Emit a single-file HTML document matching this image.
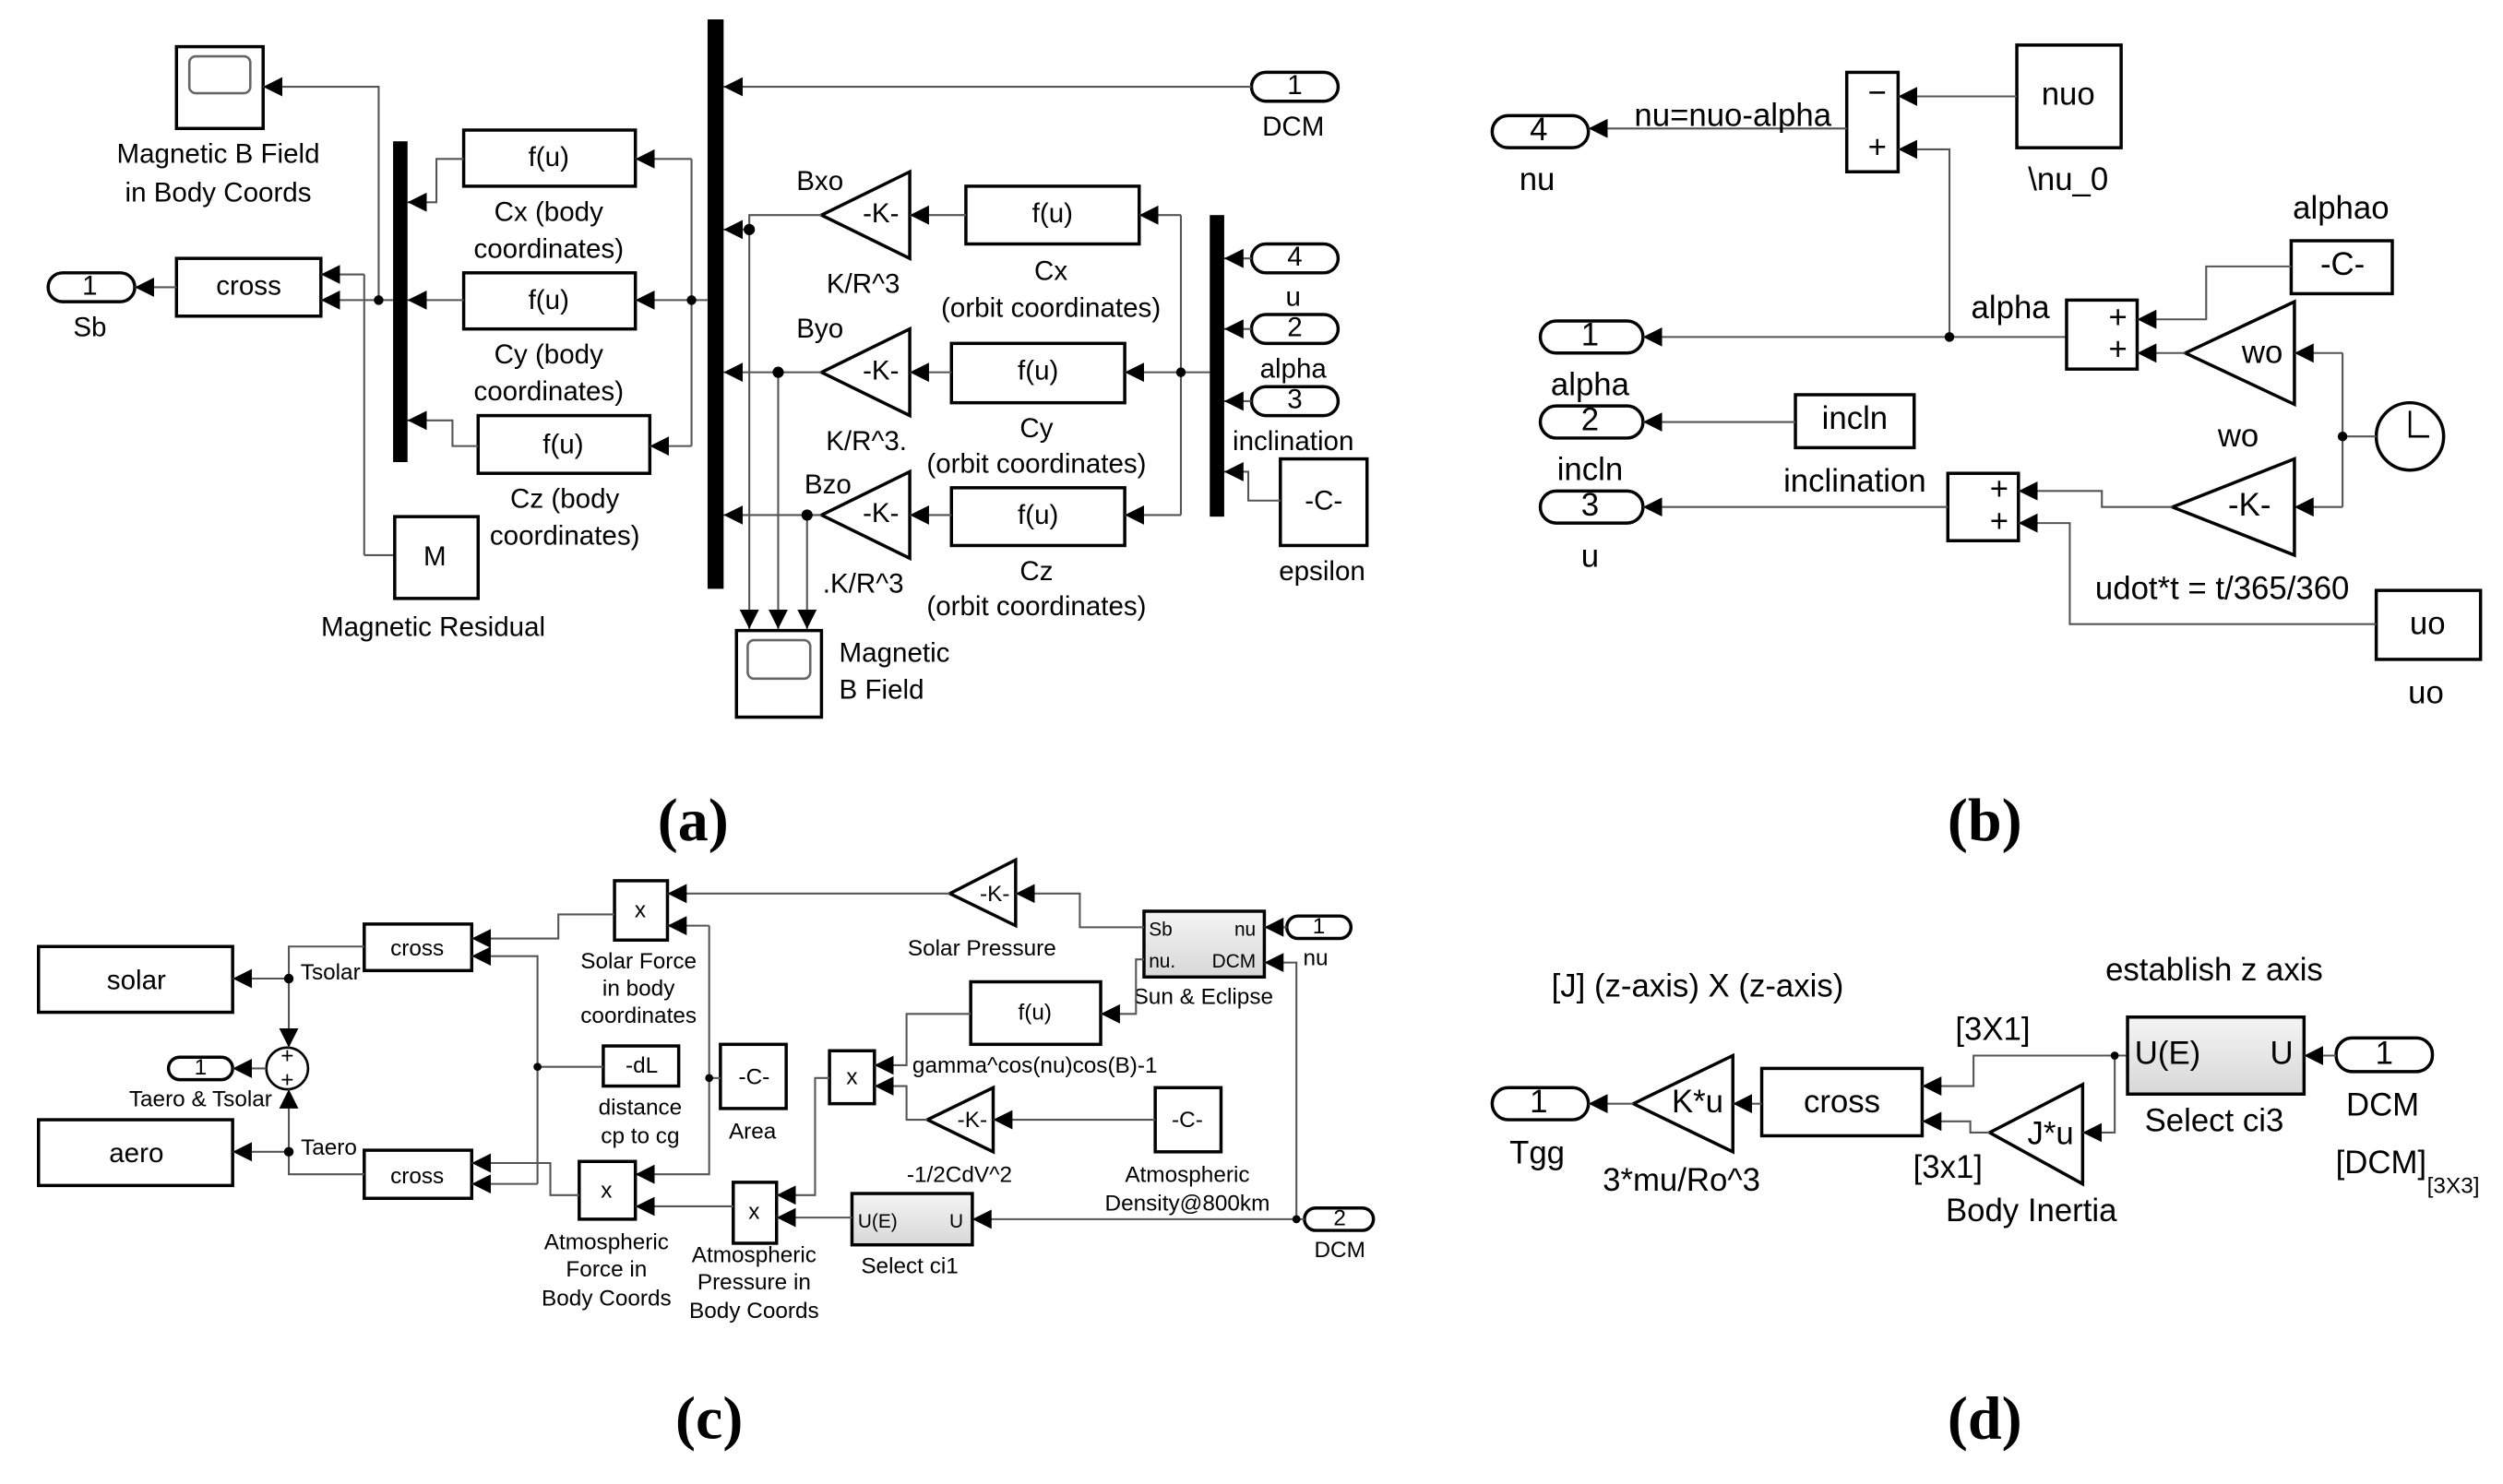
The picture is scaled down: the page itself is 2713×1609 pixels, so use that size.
<!DOCTYPE html>
<html><head><meta charset="utf-8"><style>html,body{margin:0;padding:0;background:#fff}svg{display:block}</style></head><body>
<svg width="2713" height="1609" viewBox="0 0 1560 925" xmlns="http://www.w3.org/2000/svg">
<defs>
<marker id="a" markerUnits="userSpaceOnUse" markerWidth="14" markerHeight="14" refX="12" refY="7" orient="auto"><path d="M0,1 L12,7 L0,13 z" fill="#000"/></marker>
<linearGradient id="g" x1="0" y1="0" x2="0" y2="1"><stop offset="0" stop-color="#f4f4f4"/><stop offset="1" stop-color="#d8d8d8"/></linearGradient>
</defs>
<style>
text{font-family:"Liberation Sans",Arial,sans-serif;font-size:17px;fill:#000;text-anchor:middle;dominant-baseline:middle}
.s{font-size:14px}
.m{font-size:20px}
.l{text-anchor:start}
.p{font-family:"Liberation Serif",serif;font-size:38px;font-weight:bold}
.w{fill:none;stroke:#555;stroke-width:1.2}
.b{fill:#fff;stroke:#000;stroke-width:2}
.bar{fill:#000}
</style>
<rect width="1560" height="925" fill="#fff"/>

<!-- ========== (a) ========== -->
<rect class="b" x="110" y="29" width="54" height="51"/>
<rect x="118" y="35" width="38" height="23" rx="4" fill="#fff" stroke="#666" stroke-width="1.5"/>
<text x="136" y="97">Magnetic B Field</text><text x="136" y="121">in Body Coords</text>
<rect class="b" x="30" y="170" width="54" height="18" rx="9"/><text x="56" y="179">1</text><text x="56" y="205">Sb</text>
<rect class="b" x="110" y="161" width="90" height="36"/><text x="155" y="179">cross</text>
<path class="w" d="M110,179 H84" marker-end="url(#a)"/>
<path class="w" d="M236,187 V54 H164" marker-end="url(#a)"/>
<path class="w" d="M227,171 H200" marker-end="url(#a)"/>
<path class="w" d="M227,346 V171"/>
<path class="w" d="M246,346 H227"/>
<path class="w" d="M245,187 H200" marker-end="url(#a)"/>
<circle cx="236" cy="187" r="3" fill="#000"/>
<rect class="bar" x="245" y="88" width="9" height="200"/>
<rect class="b" x="289" y="81" width="107" height="35"/><text x="342" y="99">f(u)</text>
<rect class="b" x="289" y="170" width="107" height="35"/><text x="342" y="188">f(u)</text>
<rect class="b" x="298" y="259" width="107" height="36"/><text x="351" y="278">f(u)</text>
<text x="342" y="133">Cx (body</text><text x="342" y="156">coordinates)</text>
<text x="342" y="222">Cy (body</text><text x="342" y="245">coordinates)</text>
<text x="352" y="312">Cz (body</text><text x="352" y="335">coordinates)</text>
<path class="w" d="M289,99 H272 V126 H254" marker-end="url(#a)"/>
<path class="w" d="M289,187 H254" marker-end="url(#a)"/>
<path class="w" d="M298,278 H282 V262 H254" marker-end="url(#a)"/>
<path class="w" d="M431,99 V278"/>
<path class="w" d="M431,99 H396" marker-end="url(#a)"/>
<path class="w" d="M441,187 H396" marker-end="url(#a)"/>
<path class="w" d="M431,278 H405" marker-end="url(#a)"/>
<circle cx="431" cy="187" r="3" fill="#000"/>
<rect class="b" x="246" y="322" width="52" height="51"/><text x="271" y="348">M</text>
<text x="270" y="392">Magnetic Residual</text>
<rect class="bar" x="441" y="12" width="10" height="355"/>
<rect class="b" x="780" y="45" width="54" height="18" rx="9"/><text x="807" y="54">1</text><text x="806" y="80">DCM</text>
<path class="w" d="M780,54 H451" marker-end="url(#a)"/>
<polygon class="b" points="512,134 567,107 567,161"/><text x="549" y="134">-K-</text>
<polygon class="b" points="512,232 567,205 567,259"/><text x="549" y="232">-K-</text>
<polygon class="b" points="512,321 567,294 567,348"/><text x="549" y="321">-K-</text>
<text x="511" y="114">Bxo</text><text x="538" y="178">K/R^3</text>
<text x="511" y="206">Byo</text><text x="540" y="276">K/R^3.</text>
<text x="516" y="303">Bzo</text><text x="538" y="365">.K/R^3</text>
<path class="w" d="M512,134 H467 V143 H451" marker-end="url(#a)"/>
<path class="w" d="M512,232 H451" marker-end="url(#a)"/>
<path class="w" d="M512,321 H451" marker-end="url(#a)"/>
<path class="w" d="M467,143 V392" marker-end="url(#a)"/>
<path class="w" d="M485,232 V392" marker-end="url(#a)"/>
<path class="w" d="M503,321 V392" marker-end="url(#a)"/>
<circle cx="467" cy="143" r="3.5" fill="#000"/><circle cx="485" cy="232" r="3.5" fill="#000"/><circle cx="503" cy="321" r="3.5" fill="#000"/>
<rect class="b" x="459" y="393" width="53" height="54"/>
<rect x="466" y="399" width="39" height="24" rx="4" fill="#fff" stroke="#666" stroke-width="1.5"/>
<text class="l" x="523" y="408">Magnetic</text><text class="l" x="523" y="431">B Field</text>
<rect class="b" x="602" y="116" width="108" height="36"/><text x="656" y="134">f(u)</text>
<rect class="b" x="593" y="214" width="108" height="37"/><text x="647" y="232">f(u)</text>
<rect class="b" x="593" y="304" width="108" height="36"/><text x="647" y="322">f(u)</text>
<text x="655" y="170">Cx</text><text x="655" y="193">(orbit coordinates)</text>
<text x="646" y="268">Cy</text><text x="646" y="290">(orbit coordinates)</text>
<text x="646" y="357">Cz</text><text x="646" y="379">(orbit coordinates)</text>
<path class="w" d="M602,134 H567" marker-end="url(#a)"/>
<path class="w" d="M593,232 H567" marker-end="url(#a)"/>
<path class="w" d="M593,321 H567" marker-end="url(#a)"/>
<path class="w" d="M736,134 V321"/>
<path class="w" d="M736,134 H710" marker-end="url(#a)"/>
<path class="w" d="M754,232 H701" marker-end="url(#a)"/>
<path class="w" d="M736,321 H701" marker-end="url(#a)"/>
<circle cx="736" cy="232" r="3" fill="#000"/>
<rect class="bar" x="754" y="134" width="9" height="188"/>
<rect class="b" x="780" y="152" width="54" height="18" rx="9"/><text x="807" y="161">4</text><text x="806" y="186">u</text>
<rect class="b" x="780" y="196" width="54" height="18" rx="9"/><text x="807" y="205">2</text><text x="806" y="231">alpha</text>
<rect class="b" x="780" y="241" width="54" height="18" rx="9"/><text x="807" y="250">3</text><text x="806" y="276">inclination</text>
<path class="w" d="M780,161 H763" marker-end="url(#a)"/>
<path class="w" d="M780,205 H763" marker-end="url(#a)"/>
<path class="w" d="M780,250 H763" marker-end="url(#a)"/>
<rect class="b" x="798" y="286" width="54" height="54"/><text x="825" y="313">-C-</text><text x="824" y="357">epsilon</text>
<path class="w" d="M798,312 H778 V294 H763" marker-end="url(#a)"/>
<text class="p" x="432" y="515">(a)</text>

<!-- ========== (b) ========== -->
<rect class="b" x="930" y="72" width="60" height="20" rx="10"/><text class="m" x="959" y="82">4</text><text class="m" x="958" y="113">nu</text>
<rect class="b" x="1151" y="45" width="32" height="62"/><text class="m" x="1170" y="59">−</text><text class="m" x="1170" y="93">+</text>
<path class="w" d="M1151,80 H990" marker-end="url(#a)"/>
<text class="m" x="1080" y="73">nu=nuo-alpha</text>
<rect class="b" x="1257" y="28" width="65" height="64"/><text class="m" x="1289" y="60">nuo</text><text class="m" x="1289" y="113">\nu_0</text>
<path class="w" d="M1257,60 H1183" marker-end="url(#a)"/>
<path class="w" d="M1215,210 V93 H1183" marker-end="url(#a)"/>
<rect class="b" x="960" y="200" width="64" height="20" rx="10"/><text class="m" x="991" y="210">1</text><text class="m" x="991" y="241">alpha</text>
<path class="w" d="M1288,210 H1024" marker-end="url(#a)"/>
<circle cx="1215" cy="210" r="3" fill="#000"/>
<text class="m" x="1253" y="193">alpha</text>
<rect class="b" x="1288" y="187" width="44" height="43"/><text class="m" x="1320" y="199">+</text><text class="m" x="1320" y="219">+</text>
<rect class="b" x="1428" y="150" width="63" height="33"/><text class="m" x="1460" y="166">-C-</text><text class="m" x="1459" y="131">alphao</text>
<path class="w" d="M1428,166 H1375 V199 H1332" marker-end="url(#a)"/>
<polygon class="b" points="1362,220 1430,188 1430,252"/><text class="m" x="1410" y="221">wo</text><text class="m" x="1395" y="273">wo</text>
<path class="w" d="M1362,220 H1332" marker-end="url(#a)"/>
<circle cx="1502" cy="272" r="21" fill="#fff" stroke="#000" stroke-width="2"/>
<path d="M1502,256 V272 H1514" fill="none" stroke="#000" stroke-width="1.5"/>
<path class="w" d="M1481,272 H1460"/>
<path class="w" d="M1460,220 V316"/>
<path class="w" d="M1460,220 H1430" marker-end="url(#a)"/>
<path class="w" d="M1460,316 H1430" marker-end="url(#a)"/>
<circle cx="1460" cy="272" r="3" fill="#000"/>
<polygon class="b" points="1354,316 1430,286 1430,346"/><text class="m" x="1402" y="316">-K-</text>
<rect class="b" x="1119" y="246" width="74" height="33"/><text class="m" x="1156" y="262">incln</text><text class="m" x="1156" y="301">inclination</text>
<rect class="b" x="960" y="253" width="64" height="20" rx="10"/><text class="m" x="991" y="263">2</text><text class="m" x="991" y="294">incln</text>
<path class="w" d="M1119,263 H1024" marker-end="url(#a)"/>
<rect class="b" x="1214" y="295" width="44" height="42"/><text class="m" x="1246" y="306">+</text><text class="m" x="1246" y="326">+</text>
<rect class="b" x="960" y="306" width="64" height="20" rx="10"/><text class="m" x="991" y="316">3</text><text class="m" x="991" y="348">u</text>
<path class="w" d="M1214,316 H1024" marker-end="url(#a)"/>
<path class="w" d="M1354,316 H1310 V306 H1258" marker-end="url(#a)"/>
<rect class="b" x="1481" y="368" width="65" height="43"/><text class="m" x="1513" y="390">uo</text><text class="m" x="1512" y="433">uo</text>
<path class="w" d="M1481,389 H1290 V326 H1258" marker-end="url(#a)"/>
<text class="m" x="1385" y="368">udot*t = t/365/360</text>
<text class="p" x="1237" y="515">(b)</text>

<!-- ========== (c) ========== -->
<rect class="b" x="24" y="590" width="121" height="41"/><text x="85" y="612">solar</text>
<rect class="b" x="24" y="698" width="121" height="41"/><text x="85" y="720">aero</text>
<circle cx="179" cy="666" r="13" fill="#fff" stroke="#000" stroke-width="1.5"/>
<text class="s" x="179" y="659">+</text><text class="s" x="179" y="674">+</text>
<rect class="b" x="105" y="659" width="40" height="14" rx="7"/><text class="s" x="125" y="666">1</text>
<text class="s" x="125" y="686">Taero &amp; Tsolar</text>
<path class="w" d="M166,666 H145" marker-end="url(#a)"/>
<rect class="b" x="227" y="576" width="67" height="29"/><text class="s" x="260" y="592">cross</text>
<rect class="b" x="227" y="717" width="67" height="30"/><text class="s" x="260" y="734">cross</text>
<path class="w" d="M227,590 H180 V653" marker-end="url(#a)"/>
<path class="w" d="M180,610 H145" marker-end="url(#a)"/>
<circle cx="180" cy="610" r="3" fill="#000"/>
<path class="w" d="M227,732 H180 V679" marker-end="url(#a)"/>
<path class="w" d="M180,718 H145" marker-end="url(#a)"/>
<circle cx="180" cy="718" r="3" fill="#000"/>
<text class="s" x="206" y="607">Tsolar</text><text class="s" x="205" y="716">Taero</text>
<rect class="b" x="383" y="549" width="33" height="37"/><text class="s" x="399" y="568">x</text>
<path class="w" d="M383,570 H348 V585 H294" marker-end="url(#a)"/>
<path class="w" d="M335,738 V596 H294" marker-end="url(#a)"/>
<path class="w" d="M335,738 H294" marker-end="url(#a)"/>
<rect class="b" x="376" y="652" width="47" height="25"/><text class="s" x="400" y="665">-dL</text>
<path class="w" d="M376,665 H335"/><circle cx="335" cy="665" r="2.5" fill="#000"/>
<text class="s" x="398" y="600">Solar Force</text><text class="s" x="398" y="617">in body</text><text class="s" x="398" y="634">coordinates</text>
<text class="s" x="399" y="691">distance</text><text class="s" x="399" y="709">cp to cg</text>
<polygon class="b" points="592,557 633,536 633,577"/><text class="s" x="620" y="558">-K-</text>
<text class="s" x="612" y="592">Solar Pressure</text>
<path class="w" d="M592,557 H416" marker-end="url(#a)"/>
<path class="w" d="M442,577 H416" marker-end="url(#a)"/>
<path class="w" d="M442,577 V732 H396" marker-end="url(#a)"/>
<rect class="b" x="449" y="651" width="41" height="40"/><text class="s" x="470" y="672">-C-</text><text class="s" x="469" y="706">Area</text>
<path class="w" d="M449,672 H442"/><circle cx="442" cy="672" r="2.5" fill="#000"/>
<rect class="b" x="361" y="724" width="35" height="36"/><text class="s" x="378" y="743">x</text>
<path class="w" d="M361,745 H343 V725 H294" marker-end="url(#a)"/>
<text class="s" x="378" y="775">Atmospheric</text><text class="s" x="378" y="792">Force in</text><text class="s" x="378" y="810">Body Coords</text>
<rect class="b" x="457" y="737" width="27" height="38"/><text class="s" x="470" y="756">x</text>
<path class="w" d="M457,752 H396" marker-end="url(#a)"/>
<text class="s" x="470" y="783">Atmospheric</text><text class="s" x="470" y="800">Pressure in</text><text class="s" x="470" y="818">Body Coords</text>
<rect class="b" x="517" y="655" width="28" height="33"/><text class="s" x="531" y="672">x</text>
<path class="w" d="M517,672 H508 V745 H484" marker-end="url(#a)"/>
<rect class="b" x="605" y="612" width="81" height="39"/><text class="s" x="645" y="632">f(u)</text>
<text class="s" x="645" y="665">gamma^cos(nu)cos(B)-1</text>
<path class="w" d="M605,632 H565 V664 H545" marker-end="url(#a)"/>
<polygon class="b" points="578,698 619,678 619,718"/><text class="s" x="606" y="699">-K-</text>
<text class="s" x="598" y="733">-1/2CdV^2</text>
<path class="w" d="M578,698 H565 V677 H545" marker-end="url(#a)"/>
<rect class="b" x="720" y="678" width="41" height="40"/><text class="s" x="740" y="699">-C-</text>
<text class="s" x="740" y="733">Atmospheric</text><text class="s" x="740" y="751">Density@800km</text>
<path class="w" d="M720,698 H619" marker-end="url(#a)"/>
<rect x="713" y="568" width="75" height="41" fill="url(#g)" stroke="#000" stroke-width="2"/>
<text class="s l" x="716" y="580" style="font-size:12px">Sb</text><text class="s" x="776" y="580" style="font-size:12px">nu</text>
<text class="s l" x="716" y="600" style="font-size:12px">nu.</text><text class="s" x="769" y="600" style="font-size:12px">DCM</text>
<text class="s" x="750" y="622">Sun &amp; Eclipse</text>
<path class="w" d="M713,578 H673 V557 H633" marker-end="url(#a)"/>
<path class="w" d="M713,598 H708 V632 H686" marker-end="url(#a)"/>
<rect class="b" x="802" y="571" width="40" height="14" rx="7"/><text class="s" x="822" y="578">1</text><text class="s" x="820" y="598">nu</text>
<path class="w" d="M802,578 H788" marker-end="url(#a)"/>
<rect class="b" x="813" y="753" width="43" height="14" rx="7"/><text class="s" x="835" y="760">2</text><text class="s" x="835" y="780">DCM</text>
<path class="w" d="M808,760 V600 H788" marker-end="url(#a)"/>
<path class="w" d="M813,760 H606" marker-end="url(#a)"/>
<circle cx="808" cy="760" r="2.5" fill="#000"/>
<rect x="531" y="744" width="75" height="32" fill="url(#g)" stroke="#000" stroke-width="2"/>
<text class="s" x="547" y="762" style="font-size:12px">U(E)</text><text class="s" x="596" y="762" style="font-size:12px">U</text>
<text class="s" x="567" y="790">Select ci1</text>
<path class="w" d="M531,759 H484" marker-end="url(#a)"/>
<text class="p" x="442" y="888">(c)</text>

<!-- ========== (d) ========== -->
<rect class="b" x="930" y="678" width="60" height="20" rx="10"/><text class="m" x="959" y="688">1</text><text class="m" x="958" y="720">Tgg</text>
<polygon class="b" points="1018,688 1080,658 1080,718"/><text class="m" x="1058" y="688">K*u</text>
<text class="m" x="1048" y="737">3*mu/Ro^3</text>
<path class="w" d="M1018,688 H990" marker-end="url(#a)"/>
<rect class="b" x="1098" y="666" width="100" height="42"/><text class="m" x="1148" y="688">cross</text>
<path class="w" d="M1098,688 H1080" marker-end="url(#a)"/>
<polygon class="b" points="1240,706 1298,676 1298,738"/><text class="m" x="1278" y="708">J*u</text>
<text class="m" x="1266" y="756">Body Inertia</text><text class="m" x="1214" y="729">[3x1]</text>
<path class="w" d="M1240,706 H1228 V699 H1198" marker-end="url(#a)"/>
<path class="w" d="M1326,658 H1230 V677 H1198" marker-end="url(#a)"/>
<path class="w" d="M1318,658 V706 H1298" marker-end="url(#a)"/>
<circle cx="1318" cy="658" r="2.5" fill="#000"/>
<text class="m" x="1242" y="643">[3X1]</text>
<rect x="1326" y="634" width="110" height="48" fill="url(#g)" stroke="#000" stroke-width="2"/>
<text class="m" x="1351" y="658">U(E)</text><text class="m" x="1422" y="658">U</text>
<text class="m" x="1380" y="700">Select ci3</text><text class="m" x="1380" y="606">establish z axis</text>
<rect class="b" x="1456" y="647" width="60" height="21" rx="10"/><text class="m" x="1486" y="658">1</text><text class="m" x="1485" y="690">DCM</text>
<path class="w" d="M1456,658 H1436" marker-end="url(#a)"/>
<text class="m" x="1484" y="726">[DCM]</text><text class="s" x="1529" y="740">[3X3]</text>
<text class="m" x="1058" y="616">[J] (z-axis) X (z-axis)</text>
<text class="p" x="1237" y="888">(d)</text>
</svg>
</body></html>
